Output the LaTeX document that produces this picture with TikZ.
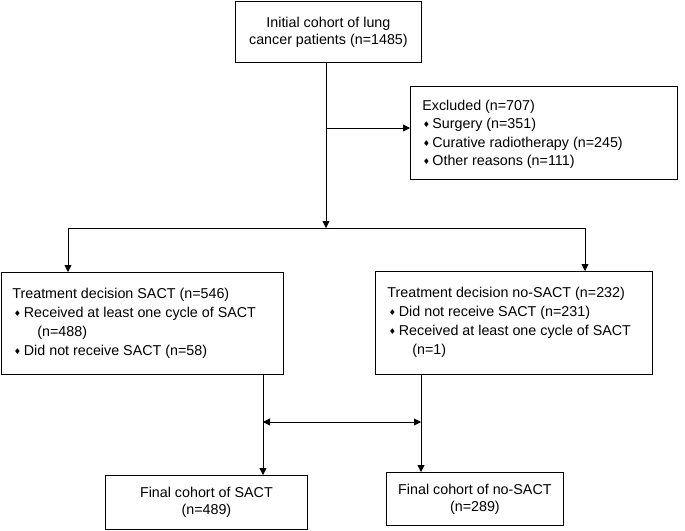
\documentclass[tikz,border=0pt]{standalone}
\usepackage{fontspec}
\setmainfont{Liberation Sans}
\newfontfamily\dejavu{DejaVu Sans}
\usetikzlibrary{arrows.meta}
\newcommand{\bul}{\makebox[10pt][l]{\hspace{0.5pt}\raisebox{0.8pt}{\dejavu\fontsize{8}{8}\selectfont ♦}}}
\newcommand{\bulB}{\makebox[11.5pt][l]{\hspace{1.5pt}\raisebox{0.8pt}{\dejavu\fontsize{8}{8}\selectfont ♦}}}
\begin{document}
\begin{tikzpicture}[x=1pt,y=-1pt,line width=0.8pt,
  box/.style={draw=black, rectangle, inner sep=0pt, anchor=north west},
  ctext/.style={align=center, font=\fontsize{14.3}{17}\selectfont},
  ltext/.style={align=left, inner sep=0pt, anchor=north west, font=\fontsize{14.3}{19}\selectfont},
  arr/.style={-{Triangle[length=7pt,width=7pt]}},
  darr/.style={{Triangle[length=7pt,width=7pt]}-{Triangle[length=7pt,width=7pt]}}]
\useasboundingbox (0,0) rectangle (685,530);
\fill[white] (0,0) rectangle (685,530);

% boxes
\node[box, ctext, minimum width=186pt, minimum height=61pt] (init) at (235,1) {Initial cohort of lung\\cancer patients (n=1485)};
\node[box, minimum width=267pt, minimum height=93pt] (excl) at (410,86) {};
\node[box, minimum width=282pt, minimum height=102pt] (sact) at (1,272) {};
\node[box, minimum width=277pt, minimum height=103pt] (nosact) at (375,271) {};
\node[box, ctext, minimum width=202pt, minimum height=54pt] (fsact) at (105,475) {Final cohort of SACT\\(n=489)};
\node[box, ctext, minimum width=177pt, minimum height=53pt] (fno) at (386,472) {Final cohort of no-SACT\\(n=289)};

% list texts
\node[ltext, font=\fontsize{14.3}{18.5}\selectfont] (excltxt) at (422,99.5) {Excluded (n=707)\\
\bul Surgery (n=351)\\
\bul Curative radiotherapy (n=245)\\
\bul Other reasons (n=111)};
\node[ltext] (sacttxt) at (12,287.5) {Treatment decision SACT (n=546)\\
\bulB Received at least one cycle of SACT\\
\hspace*{25pt}(n=488)\\
\bulB Did not receive SACT (n=58)};
\node[ltext] (nosacttxt) at (387,286.5) {Treatment decision no-SACT (n=232)\\
\bulB Did not receive SACT (n=231)\\
\bulB Received at least one cycle of SACT\\
\hspace*{25pt}(n=1)};

% connectors
\coordinate (j) at (326,228);
\coordinate (lj) at (68,228);
\coordinate (rj) at (585,228);
\coordinate (e) at (326,128);
\coordinate (ls) at (263,374);
\coordinate (rs) at (421,374);
\coordinate (da) at (263,422);
\coordinate (db) at (421,422);

\draw[arr] (init.south -| j) -- (j);
\draw[arr] (e) -- (e -| excl.west);
\draw (lj) -- (rj);
\draw[arr] (lj) -- (lj |- sact.north);
\draw[arr] (rj) -- (rj |- nosact.north);
\draw[arr] (ls) -- (ls |- fsact.north);
\draw[arr] (rs) -- (rs |- fno.north);
\draw[darr] (da) -- (db);
\end{tikzpicture}
\end{document}
